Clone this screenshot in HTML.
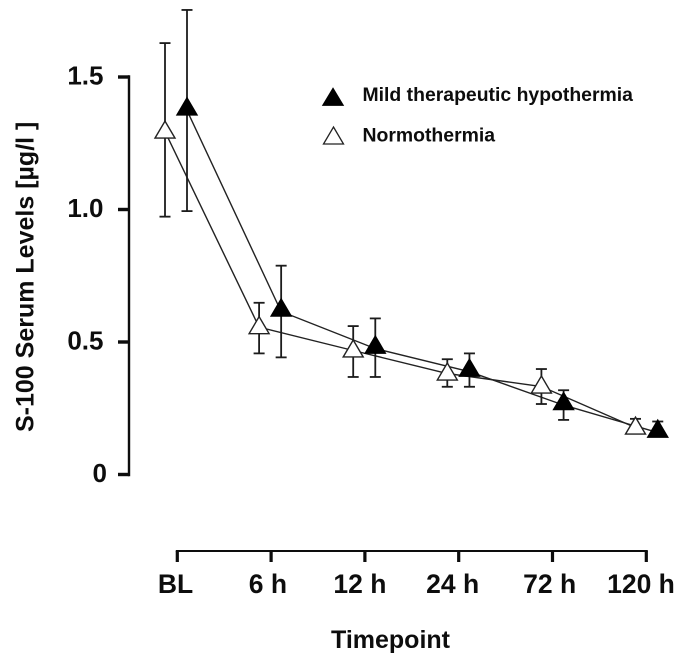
<!DOCTYPE html>
<html>
<head>
<meta charset="utf-8">
<style>
html,body{margin:0;padding:0;background:#fff;}
svg{display:block;}
text{font-family:"Liberation Sans",sans-serif;font-weight:bold;fill:#111;}
</style>
</head>
<body>
<svg id="chart" xmlns="http://www.w3.org/2000/svg" width="685" height="664" viewBox="0 0 685 664">
  <defs>
    <filter id="soft" x="-5%" y="-5%" width="110%" height="110%"><feGaussianBlur stdDeviation="0.35"/></filter>
  </defs>
  <g id="root" filter="url(#soft)">
    <g id="lines"></g>
    <g id="bars"></g>
    <g id="marks"></g>
    <g id="axes"></g>
    <text transform="translate(33.5,432) rotate(-90)" font-size="25">S-100 Serum Levels [µg/l ]</text>
    <text x="390.5" y="648" text-anchor="middle" font-size="25">Timepoint</text>
    <g>
      <polygon points="333,88 343.5,105.5 322.5,105.5" fill="#000" stroke="#000" stroke-width="0.8"/>
      <text x="362.5" y="101" font-size="19.4">Mild therapeutic hypothermia</text>
      <polygon points="333.5,127 343.5,144 323.5,144" fill="#fff" stroke="#222" stroke-width="1.3"/>
      <text x="362.5" y="141.7" font-size="19.4">Normothermia</text>
    </g>
  </g>
</svg>
<script>
const categories = ['BL', '6 h', '12 h', '24 h', '72 h', '120 h'];
const yTicks = [0, 0.5, 1.0, 1.5];
const yTickLabels = ['0', '0.5', '1.0', '1.5'];
const mildMean = [1.374, 0.615, 0.475, 0.388, 0.262, 0.158];
const mildUpper = [1.753, 0.788, 0.589, 0.457, 0.318, 0.2];
const mildLower = [0.994, 0.442, 0.368, 0.331, 0.206, 0.15];
const normoMean = [1.294, 0.556, 0.468, 0.381, 0.332, 0.177];
const normoUpper = [1.628, 0.648, 0.56, 0.435, 0.398, 0.21];
const normoLower = [0.973, 0.457, 0.368, 0.331, 0.266, 0.16];

const NS = 'http://www.w3.org/2000/svg';
const yScale = function (v) { return 474.5 - 265 * v; };
const xBand = function (i) { return 177.3 + 93.8 * i; };
const xMild = function (i) { return 187 + 94.15 * i; };
const xNormo = function (i) { return 165 + 94.1 * i; };

function make(tag, parent, attrs) {
  const el = document.createElementNS(NS, tag);
  Object.keys(attrs).forEach(function (k) { el.setAttribute(k, attrs[k]); });
  parent.appendChild(el);
  return el;
}
const axes = document.getElementById('axes');
const lines = document.getElementById('lines');
const bars = document.getElementById('bars');
const marks = document.getElementById('marks');

/* y axis */
const yLine = make('line', axes, {x1: 129, x2: 129, y1: yScale(1.5) - 1.7, y2: yScale(0) + 1.7, stroke: '#111', 'stroke-width': 2.4});


yTicks.forEach(function (v, i) {
  const t = make('line', axes, {x1: 118, x2: 129, y1: yScale(v), y2: yScale(v), stroke: '#111', 'stroke-width': 3.4});
  
  
  const l = make('text', axes, {x: v === 0 ? 107 : 103.5, y: yScale(v) + 7.5, 'text-anchor': 'end', 'font-size': 26});
  l.textContent = yTickLabels[i];
  
  
});

/* x axis */
const xLine = make('line', axes, {x1: xBand(0) - 1.5, x2: xBand(categories.length - 1) + 1.5, y1: 551, y2: 551, stroke: '#111', 'stroke-width': 2});


categories.forEach(function (c, i) {
  const labelShift = [-1.8, -3.2, -5, -6, -2.8, -5.3][i] || 0;
  const t = make('line', axes, {x1: xBand(i), x2: xBand(i), y1: 551, y2: 562, stroke: '#111', 'stroke-width': 3.2});
  
  
  const l = make('text', axes, {x: xBand(i) + labelShift, y: 593, 'text-anchor': 'middle', 'font-size': 26.5});
  l.textContent = c;
  
  
});

function drawSeries(name, xFn, mean, upper, lower, fill, stroke, apexUp, baseDown) {
  const pts = mean.map(function (v, i) { return xFn(i).toFixed(1) + ',' + yScale(v).toFixed(1); }).join(' ');
  const pl = make('polyline', lines, {points: pts, fill: 'none', stroke: '#222', 'stroke-width': 1.4});
  
  
  mean.forEach(function (v, i) {
    const x = xFn(i);
    const stem = make('line', bars, {x1: x, x2: x, y1: yScale(upper[i]), y2: yScale(lower[i]), stroke: '#1a1a1a', 'stroke-width': 1.8});
    
    
    const capT = make('line', bars, {x1: x - 5.5, x2: x + 5.5, y1: yScale(upper[i]), y2: yScale(upper[i]), stroke: '#1a1a1a', 'stroke-width': 1.8});
    
    
    const capB = make('line', bars, {x1: x - 5.5, x2: x + 5.5, y1: yScale(lower[i]), y2: yScale(lower[i]), stroke: '#1a1a1a', 'stroke-width': 1.8});
    
    
    const y = yScale(v);
    const tri = make('polygon', marks, {
      points: x + ',' + (y - apexUp) + ' ' + (x + 10) + ',' + (y + baseDown) + ' ' + (x - 10) + ',' + (y + baseDown),
      fill: fill, stroke: stroke, 'stroke-width': 1.4
    });
    
    
  });
}
drawSeries('normothermia', xNormo, normoMean, normoUpper, normoLower, '#fff', '#222', 10.5, 6.5);
drawSeries('mild-hypothermia', xMild, mildMean, mildUpper, mildLower, '#000', '#000', 12.5, 4.5);
</script>
</body>
</html>
